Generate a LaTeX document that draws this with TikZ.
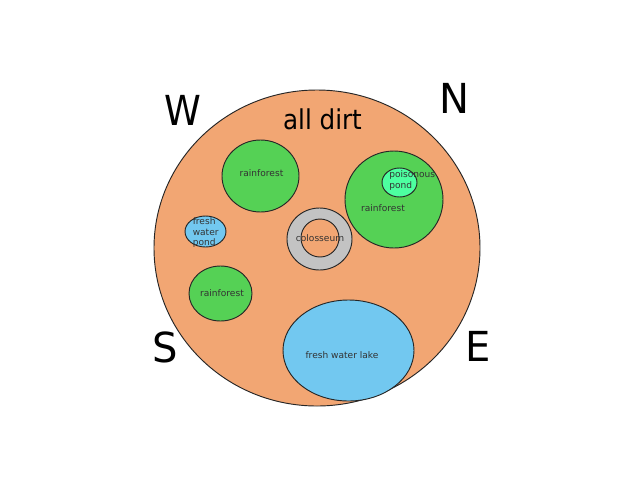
\documentclass[tikz,border=0pt]{standalone}
\usepackage{fontspec}
\setmainfont[FakeStretch=0.9]{DejaVu Sans}
\newfontfamily\plainfont{DejaVu Sans}
\newfontfamily\widefont[FakeStretch=0.97]{DejaVu Sans}
\tikzset{
  x=0.75pt,y=-0.75pt,
  region/.style={draw=black!85,line width=0.7pt},
  land/.style={region,fill=dirt},
  forest/.style={region,fill=leaf},
  water/.style={region,fill=lake},
  lbl/.style={font=\plainfont\fontsize{6.8}{7.9}\selectfont,text=black!80,inner sep=0pt,align=center},
  compass/.style={font=\fontsize{31}{31}\selectfont,inner sep=0pt,anchor=base},
  compasswide/.style={font=\widefont\fontsize{31}{31}\selectfont,inner sep=0pt,anchor=base},
}
\definecolor{dirt}{HTML}{F2A673}
\definecolor{leaf}{HTML}{55D155}
\definecolor{lake}{HTML}{72C8F0}
\definecolor{toxic}{HTML}{4DFFA0}
\definecolor{ring}{HTML}{C3C3C3}
\begin{document}
\begin{tikzpicture}
\useasboundingbox (0,0) rectangle (640,480);
\fill[white] (0,0) rectangle (640,480);
\draw[land] (317,248) ellipse [x radius=163,y radius=158];
\draw[forest] (260.5,176) ellipse [x radius=38.5,y radius=36];
\draw[forest] (394,199.5) ellipse [x radius=49,y radius=48.5];
\draw[region,fill=toxic] (399.5,182.5) ellipse [x radius=17.5,y radius=14.5];
\draw[water] (205.5,231.5) ellipse [x radius=20.5,y radius=15.5];
\draw[region,fill=ring] (319.5,239) ellipse [x radius=32.5,y radius=31];
\draw[land] (320,238) ellipse [x radius=19,y radius=19];
\draw[forest] (220.5,293.5) ellipse [x radius=31.5,y radius=27.5];
\draw[water] (348.5,350.5) ellipse [x radius=65.5,y radius=50.5];
\node[lbl] (r1) at (261.5,173.5) {rainforest};
\node[lbl] (r2) at (383,208) {rainforest};
\node[lbl,align=left,anchor=west] (pp) at (389,180.5) {poisonous\\pond};
\node[lbl,align=left,anchor=west] (fp) at (192.5,232.5) {fresh\\water\\pond};
\node[lbl] (co) at (320,238.5) {colosseum};
\node[lbl] (r3) at (222,293) {rainforest};
\node[lbl] (fl) at (342,355) {fresh water lake};
\node[font=\fontsize{20.5}{20}\selectfont,inner sep=0pt,anchor=base] (ad) at (322.5,129) {all dirt};
\node[compass] (w) at (183,125) {W};
\node[compasswide] (n) at (454.5,113) {N};
\node[compasswide] (s) at (165,362) {S};
\node[compasswide] (e) at (478,361) {E};
\end{tikzpicture}
\end{document}
